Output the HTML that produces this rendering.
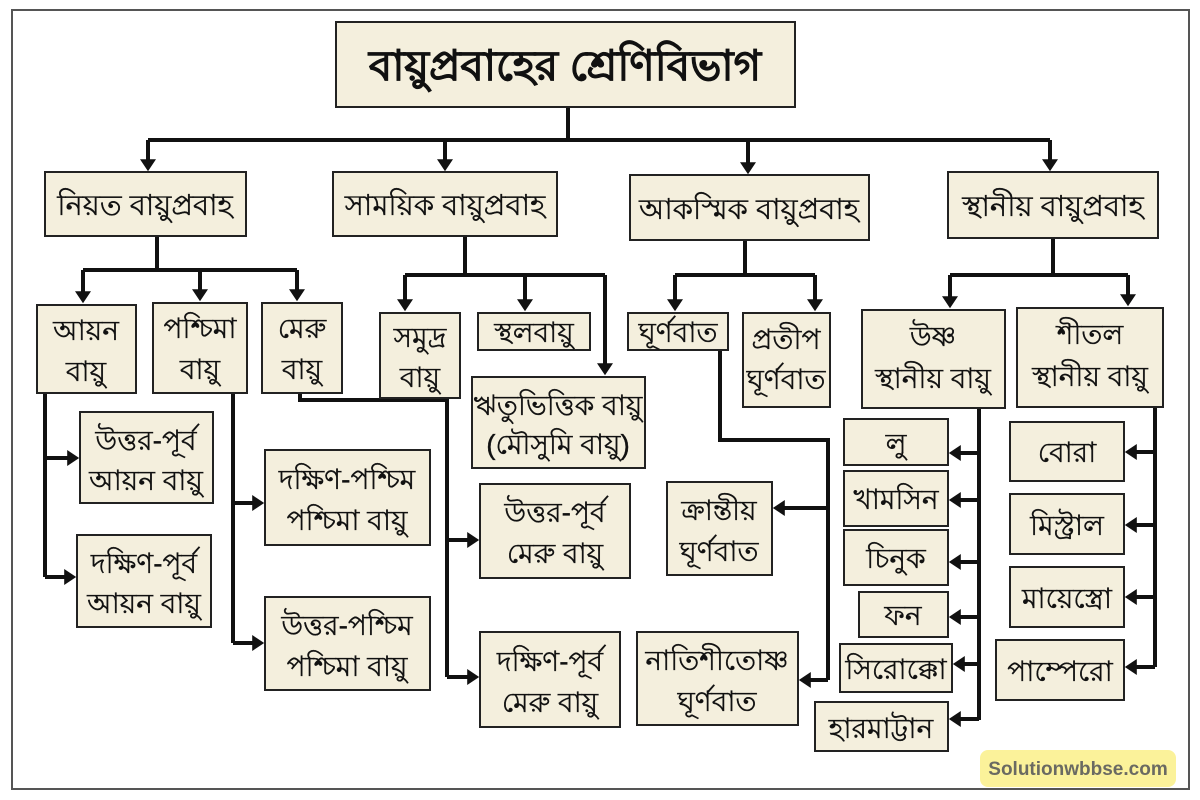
<!DOCTYPE html>
<html><head><meta charset="utf-8"><style>
html,body{margin:0;padding:0;background:#fff;}
svg{display:block;}
text{font-family:"Liberation Sans","Noto Sans CJK SC",sans-serif;fill:#111;text-anchor:middle;stroke:#111;stroke-width:0.35;}
.b{fill:#f4efdd;stroke:#222;stroke-width:2;}
.l{stroke:#111;stroke-width:4;fill:none;}
</style></head><body>
<svg width="1200" height="800" viewBox="0 0 1200 800" xmlns="http://www.w3.org/2000/svg">
<defs>
<marker id="a" markerWidth="4" markerHeight="4" refX="2.2" refY="2" orient="auto" markerUnits="strokeWidth">
<path d="M0,0 L3,2 L0,4 z" fill="#111"/></marker>
</defs>
<rect x="12" y="10" width="1177" height="779" fill="none" stroke="#555" stroke-width="2"/>

<g class="l">
<path d="M568,107 V140"/>
<path d="M148,140 H1050"/>
<path d="M148,140 V168" marker-end="url(#a)"/>
<path d="M445,140 V168" marker-end="url(#a)"/>
<path d="M748,140 V171" marker-end="url(#a)"/>
<path d="M1050,140 V168" marker-end="url(#a)"/>

<path d="M157,236 V270 M83,270 H297"/>
<path d="M83,270 V300" marker-end="url(#a)"/>
<path d="M200,270 V298" marker-end="url(#a)"/>
<path d="M297,270 V298" marker-end="url(#a)"/>

<path d="M465,236 V275 M405,275 H605"/>
<path d="M405,275 V308" marker-end="url(#a)"/>
<path d="M525,275 V308" marker-end="url(#a)"/>
<path d="M605,275 V372" marker-end="url(#a)"/>

<path d="M745,240 V275 M675,275 H815"/>
<path d="M675,275 V308" marker-end="url(#a)"/>
<path d="M815,275 V308" marker-end="url(#a)"/>

<path d="M1053,238 V275 M950,275 H1128"/>
<path d="M950,275 V305" marker-end="url(#a)"/>
<path d="M1128,275 V303" marker-end="url(#a)"/>

<path d="M45,393 V577"/>
<path d="M45,458 H76" marker-end="url(#a)"/>
<path d="M45,577 H73" marker-end="url(#a)"/>

<path d="M233,393 V643"/>
<path d="M233,503 H261" marker-end="url(#a)"/>
<path d="M233,643 H261" marker-end="url(#a)"/>

<path d="M300,393 V400 H447 V677"/>
<path d="M447,540 H476" marker-end="url(#a)"/>
<path d="M447,677 H476" marker-end="url(#a)"/>

<path d="M720,350 V440 H828 V680"/>
<path d="M828,508 H776" marker-end="url(#a)"/>
<path d="M828,680 H802" marker-end="url(#a)"/>

<path d="M979,408 V720"/>
<path d="M979,453 H952" marker-end="url(#a)"/>
<path d="M979,500 H952" marker-end="url(#a)"/>
<path d="M979,562 H952" marker-end="url(#a)"/>
<path d="M979,617 H952" marker-end="url(#a)"/>
<path d="M979,664 H956" marker-end="url(#a)"/>
<path d="M979,719 H952" marker-end="url(#a)"/>

<path d="M1155,407 V667"/>
<path d="M1155,452 H1128" marker-end="url(#a)"/>
<path d="M1155,525 H1128" marker-end="url(#a)"/>
<path d="M1155,597 H1128" marker-end="url(#a)"/>
<path d="M1155,667 H1128" marker-end="url(#a)"/>
</g>

<rect class="b" x="336" y="22" width="459" height="85"/>
<text x="565" y="80" font-size="42" font-weight="bold">বায়ুপ্রবাহের শ্রেণিবিভাগ</text>

<rect class="b" x="45" y="172" width="201" height="64"/><text x="145" y="215" font-size="29">নিয়ত বায়ুপ্রবাহ</text>
<rect class="b" x="333" y="172" width="224" height="64"/><text x="445" y="215" font-size="29">সাময়িক বায়ুপ্রবাহ</text>
<rect class="b" x="630" y="175" width="239" height="65"/><text x="749" y="219" font-size="29">আকস্মিক বায়ুপ্রবাহ</text>
<rect class="b" x="948" y="172" width="210" height="66"/><text x="1053" y="216" font-size="29">স্থানীয় বায়ুপ্রবাহ</text>

<g font-size="28">
<rect class="b" x="37" y="305" width="99" height="88"/><text x="86" y="340">আয়ন</text><text x="86" y="381">বায়ু</text>
<rect class="b" x="153" y="303" width="94" height="90"/><text x="200" y="338">পশ্চিমা</text><text x="200" y="379">বায়ু</text>
<rect class="b" x="262" y="303" width="80" height="90"/><text x="302" y="338">মেরু</text><text x="302" y="379">বায়ু</text>

<rect class="b" x="380" y="313" width="80" height="85"/><text x="420" y="347">সমুদ্র</text><text x="420" y="387">বায়ু</text>
<rect class="b" x="478" y="313" width="112" height="37"/><text x="534" y="342">স্থলবায়ু</text>
<rect class="b" x="472" y="377" width="173" height="91"/><text x="558" y="415">ঋতুভিত্তিক বায়ু</text><text x="558" y="454">(মৌসুমি বায়ু)</text>

<rect class="b" x="628" y="313" width="100" height="37"/><text x="678" y="342">ঘূর্ণবাত</text>
<rect class="b" x="743" y="313" width="87" height="94"/><text x="786" y="349">প্রতীপ</text><text x="786" y="389">ঘূর্ণবাত</text>

<rect class="b" x="862" y="310" width="143" height="98"/><text x="933" y="346">উষ্ণ</text><text x="933" y="388">স্থানীয় বায়ু</text>
<rect class="b" x="1017" y="308" width="146" height="99"/><text x="1090" y="344">শীতল</text><text x="1090" y="386">স্থানীয় বায়ু</text>

<rect class="b" x="80" y="412" width="133" height="91"/><text x="146" y="450">উত্তর-পূর্ব</text><text x="146" y="490">আয়ন বায়ু</text>
<rect class="b" x="77" y="535" width="134" height="92"/><text x="144" y="573">দক্ষিণ-পূর্ব</text><text x="144" y="613">আয়ন বায়ু</text>

<rect class="b" x="265" y="450" width="165" height="95"/><text x="347" y="489">দক্ষিণ-পশ্চিম</text><text x="347" y="530">পশ্চিমা বায়ু</text>
<rect class="b" x="265" y="597" width="165" height="93"/><text x="347" y="635">উত্তর-পশ্চিম</text><text x="347" y="676">পশ্চিমা বায়ু</text>

<rect class="b" x="480" y="484" width="150" height="94"/><text x="555" y="522">উত্তর-পূর্ব</text><text x="555" y="563">মেরু বায়ু</text>
<rect class="b" x="480" y="632" width="140" height="95"/><text x="550" y="671">দক্ষিণ-পূর্ব</text><text x="550" y="712">মেরু বায়ু</text>

<rect class="b" x="667" y="482" width="105" height="93"/><text x="719" y="520">ক্রান্তীয়</text><text x="719" y="561">ঘূর্ণবাত</text>
<rect class="b" x="637" y="632" width="161" height="93"/><text x="717" y="670">নাতিশীতোষ্ণ</text><text x="717" y="711">ঘূর্ণবাত</text>

<rect class="b" x="844" y="419" width="104" height="46"/><text x="896" y="453">লু</text>
<rect class="b" x="844" y="471" width="104" height="55"/><text x="896" y="509">খামসিন</text>
<rect class="b" x="844" y="530" width="104" height="55"/><text x="896" y="568">চিনুক</text>
<rect class="b" x="859" y="592" width="89" height="45"/><text x="903" y="625">ফন</text>
<rect class="b" x="840" y="644" width="112" height="48"/><text x="896" y="679">সিরোক্কো</text>
<rect class="b" x="815" y="702" width="133" height="49"/><text x="881" y="738">হারমাট্টান</text>

<rect class="b" x="1010" y="422" width="114" height="59"/><text x="1067" y="462">বোরা</text>
<rect class="b" x="1010" y="494" width="114" height="60"/><text x="1067" y="535">মিস্ট্রাল</text>
<rect class="b" x="1010" y="567" width="114" height="60"/><text x="1067" y="608">মায়েস্ত্রো</text>
<rect class="b" x="996" y="640" width="128" height="60"/><text x="1060" y="681">পাম্পেরো</text>
</g>

<rect x="980" y="750" width="196" height="37" rx="8" fill="#fbf29a"/>
<text x="1078" y="775" font-size="19" font-weight="bold" style="fill:#6a6a62;stroke:none">Solutionwbbse.com</text>
</svg>
</body></html>
